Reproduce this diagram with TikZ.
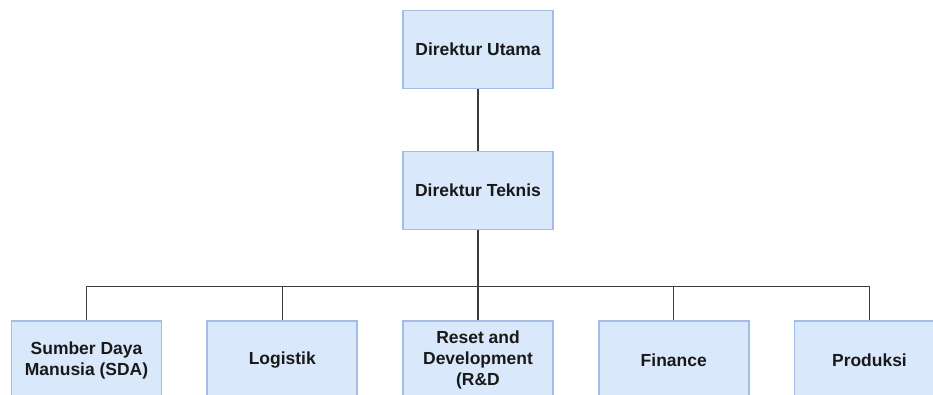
\documentclass[tikz,border=0pt]{standalone}
\usepackage{fontspec}
\setmainfont{Liberation Sans}
\usetikzlibrary{positioning}

\definecolor{unitfill}{HTML}{DAE8FC}
\definecolor{unitline}{HTML}{A3BDE5}
\definecolor{linkline}{HTML}{3C3C3C}

\tikzset{
  unit/.style={draw=unitline, line width=1.3pt, fill=unitfill, minimum width=112.5pt, minimum height=58.5pt, align=center, font=\bfseries\fontsize{13.1pt}{15.75pt}\selectfont, text=black!90, inner sep=2pt},
  link/.style={draw=linkline, line width=1.1pt}
}

\begin{document}
\begin{tikzpicture}

        % frame of the page
        \useasboundingbox (0,0) rectangle (699.75pt,295.5pt);
        \clip (0,0) rectangle (699.75pt,295.5pt);

        % Top of the structure
        \node[unit] (utama) at (358.5pt,258.4pt) {Direktur Utama};
        \node[unit, below=46pt of utama] (teknis) {Direktur Teknis};

        % Divisions
        \node[unit, below=67.5pt of teknis] (rnd) {Reset and\\Development\\(R\&D};
        \node[unit, left=33pt of rnd] (logistik) {Logistik};
        \node[unit, left=33pt of logistik] (sda) {Sumber Daya\\Manusia (SDA)};
        \node[unit, right=33pt of rnd] (finance) {Finance};
        \node[unit, right=33pt of finance] (produksi) {Produksi};

        % Bus line point
        \coordinate[below=42pt of teknis.south] (bus);

        % Connections with right angles
        \draw[link] (utama) -- (teknis);
        \draw[link] (teknis) -- (bus);
        \draw[link] (bus) -| (sda);
        \draw[link] (bus) -| (logistik);
        \draw[link] (bus) -- (rnd);
        \draw[link] (bus) -| (finance);
        \draw[link] (bus) -| (produksi);

    \end{tikzpicture}
\end{document}
